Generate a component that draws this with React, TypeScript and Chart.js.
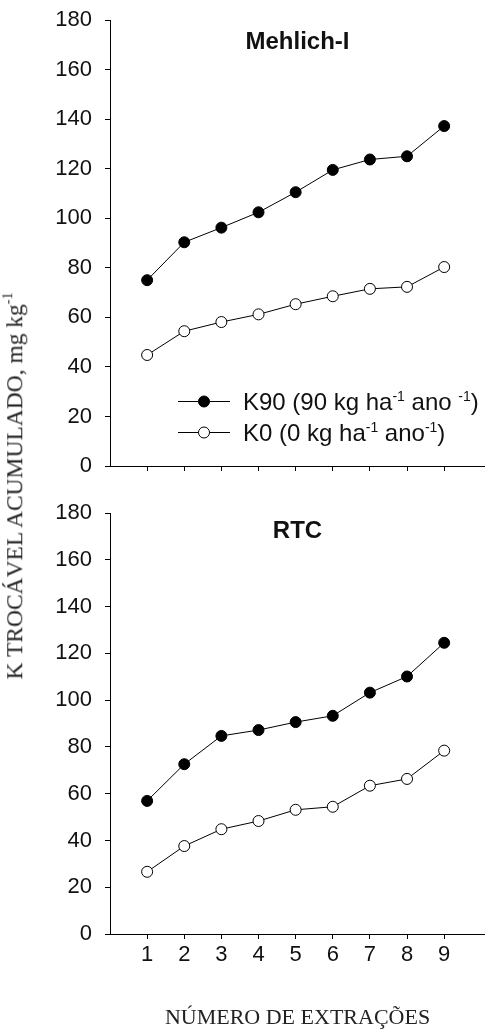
import React, { useEffect, useRef } from 'react';
import { Chart, registerables } from 'chart.js';

Chart.register(...registerables);

// ---- data ----
const extractions = [1, 2, 3, 4, 5, 6, 7, 8, 9];
const mehlichK90 = [75, 90.3, 96.2, 102.4, 110.5, 119.5, 123.7, 125, 137.2];
const mehlichK0 = [44.8, 54.4, 58.1, 61.2, 65.3, 68.5, 71.5, 72.3, 80.3];
const rtcK90 = [56.9, 72.6, 84.7, 87.2, 90.6, 93.3, 103.2, 110.1, 124.5];
const rtcK0 = [26.6, 37.6, 44.8, 48.3, 53.1, 54.4, 63.4, 66.3, 78.4];
const yTickValues = [0, 20, 40, 60, 80, 100, 120, 140, 160, 180];
const panelTitles = ['Mehlich-I', 'RTC'];
const xAxisTitle = 'NÚMERO DE EXTRAÇÕES';
const yAxisTitle = 'K TROCÁVEL ACUMULADO, mg kg';
const legendK90: [string, boolean][] = [['K90 (90 kg ha', false], ['-1', true], [' ano ', false], ['-1', true], [')', false]];
const legendK0: [string, boolean][] = [['K0 (0 kg ha', false], ['-1', true], [' ano', false], ['-1', true], [')', false]];

const SANS = '"Liberation Sans", Arial, Helvetica, sans-serif';
const SERIF = '"Liberation Serif", "Times New Roman", serif';
const TEXT = '#111';

type PanelProps = {
  k90: number[];
  k0: number[];
  title: string;
  titleY: number;
  showLegend: boolean;
  showXLabels: boolean;
  height: number;
  padTop: number;
  xAxisHeight: number;
};

function Panel(p: PanelProps) {
  const ref = useRef<HTMLCanvasElement | null>(null);
  useEffect(() => {
    if (!ref.current) return;
    const decor = {
      id: 'decor',
      afterDatasetsDraw(chart: any) {
        const ctx = chart.ctx;
        const ca = chart.chartArea;
        ctx.save();
        ctx.fillStyle = TEXT;
        ctx.font = `bold 24px ${SANS}`;
        ctx.textAlign = 'center';
        ctx.textBaseline = 'middle';
        ctx.fillText(p.title, (ca.left + ca.right) / 2, p.titleY);
        if (p.showLegend) {
          const entries: { parts: [string, boolean][]; fill: string; y: number }[] = [
            { parts: legendK90, fill: '#000', y: 401 },
            { parts: legendK0, fill: '#fff', y: 432 },
          ];
          entries.forEach((e) => {
            ctx.strokeStyle = '#000';
            ctx.lineWidth = 1;
            ctx.beginPath();
            ctx.moveTo(178, e.y + 0.5);
            ctx.lineTo(230, e.y + 0.5);
            ctx.stroke();
            ctx.beginPath();
            ctx.arc(204, e.y + 0.5, 5.5, 0, Math.PI * 2);
            ctx.fillStyle = e.fill;
            ctx.fill();
            ctx.stroke();
            let x = 243;
            const base = e.y + 8.5;
            ctx.fillStyle = TEXT;
            ctx.textAlign = 'left';
            ctx.textBaseline = 'alphabetic';
            e.parts.forEach(([t, sup]) => {
              ctx.font = sup ? `14px ${SANS}` : `24px ${SANS}`;
              ctx.fillText(t, x, sup ? base - 9 : base);
              x += ctx.measureText(t).width;
            });
          });
        }
        ctx.restore();
      },
    };
    const mk = (vals: number[]) => extractions.map((x, i) => ({ x, y: vals[i] }));
    const chart = new Chart(ref.current, {
      type: 'line',
      data: {
        datasets: [
          {
            label: 'K90',
            data: mk(p.k90),
            borderColor: '#000',
            borderWidth: 1,
            pointRadius: 5.5,
            pointBackgroundColor: '#000',
            pointBorderColor: '#000',
            pointBorderWidth: 1,
            fill: false,
            tension: 0,
          },
          {
            label: 'K0',
            data: mk(p.k0),
            borderColor: '#000',
            borderWidth: 1,
            pointRadius: 5.5,
            pointBackgroundColor: '#fff',
            pointBorderColor: '#000',
            pointBorderWidth: 1,
            fill: false,
            tension: 0,
          },
        ],
      },
      options: {
        animation: false,
        responsive: false,
        maintainAspectRatio: false,
        layout: { padding: { top: p.padTop, left: 0, right: 0, bottom: 0 }, autoPadding: false },
        plugins: { legend: { display: false }, tooltip: { enabled: false }, title: { display: false } },
        scales: {
          x: {
            type: 'linear',
            min: 0,
            max: 10.1,
            afterBuildTicks: (s: any) => {
              s.ticks = extractions.map((v) => ({ value: v }));
            },
            afterFit: (s: any) => {
              s.height = p.xAxisHeight;
              s.paddingLeft = 0;
              s.paddingRight = 0;
            },
            grid: { drawOnChartArea: false, drawTicks: true, tickLength: 5, color: '#000', lineWidth: 1 },
            border: { display: true, color: '#000', width: 1 },
            ticks: {
              display: p.showXLabels,
              autoSkip: false,
              maxRotation: 0,
              padding: 3,
              color: TEXT,
              font: { family: SANS, size: 22 },
            },
            title: {
              display: p.showXLabels,
              text: xAxisTitle,
              color: '#222',
              font: { family: SERIF, size: 22, lineHeight: 1 },
              padding: { top: 0, bottom: 4 },
            },
          },
          y: {
            min: 0,
            max: 180,
            afterBuildTicks: (s: any) => {
              s.ticks = yTickValues.map((v) => ({ value: v }));
            },
            afterFit: (s: any) => {
              s.width = 110;
              s.paddingTop = 0;
              s.paddingBottom = 0;
            },
            grid: { drawOnChartArea: false, drawTicks: true, tickLength: 5, color: '#000', lineWidth: 1 },
            border: { display: true, color: '#000', width: 1 },
            ticks: { padding: 13, color: TEXT, font: { family: SANS, size: 22 } },
          },
        },
      } as any,
      plugins: [decor],
    });
    return () => chart.destroy();
  }, []);
  return <canvas ref={ref} width={485} height={p.height} style={{ display: 'block', width: 485, height: p.height }} />;
}

export default function App() {
  return (
    <div style={{ position: 'absolute', left: 0, top: 0, width: 485, height: 1033, background: '#fff', overflow: 'hidden' }}>
      <div style={{ position: 'absolute', left: 0, top: 0 }}>
        <Panel k90={mehlichK90} k0={mehlichK0} title={panelTitles[0]} titleY={42} showLegend={true} showXLabels={false} height={480} padTop={20} xAxisHeight={14} />
      </div>
      <div style={{ position: 'absolute', left: 0, top: 480 }}>
        <Panel k90={rtcK90} k0={rtcK0} title={panelTitles[1]} titleY={51} showLegend={false} showXLabels={true} height={553} padTop={33} xAxisHeight={99} />
      </div>
      <div
        style={{
          position: 'absolute',
          left: 15,
          top: 486,
          transform: 'translate(-50%, -50%) rotate(-90deg)',
          whiteSpace: 'nowrap',
          fontFamily: SERIF,
          fontSize: 23.5,
          color: '#222',
          lineHeight: 1,
        }}
      >
        {yAxisTitle}
        <sup style={{ fontSize: 14, verticalAlign: 'baseline', position: 'relative', top: -10 }}>-1</sup>
      </div>
    </div>
  );
}
